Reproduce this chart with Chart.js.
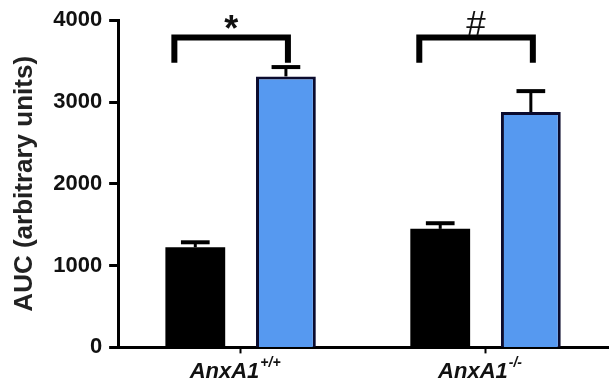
<!DOCTYPE html>
<html>
<head>
<meta charset="utf-8">
<script src="https://cdn.jsdelivr.net/npm/chart.js@4.4.1/dist/chart.umd.min.js"></script>
<style>
  html, body { margin: 0; padding: 0; background: #fff; }
  #wrap { width: 609px; height: 387px; }
</style>
</head>
<body>
<div id="wrap"><canvas id="auc"></canvas></div>
<script>
  // values
  var genotypes = ['AnxA1', 'AnxA1'];
  var genotypeSup = ['+/+', '-/-'];
  var controlAuc = [1224, 1449];
  var controlSem = [61, 69];
  var treatedAuc = [3313, 2877];
  var treatedSem = [114, 256];
  var sigMarks = ['*', '#'];
  var yTicks = [0, 1000, 2000, 3000, 4000];

  var errorBars = {
    id: 'errorBars',
    afterDatasetsDraw: function(chart) {
      var ctx = chart.ctx;
      var y = chart.scales.y;
      ctx.save();
      ctx.strokeStyle = '#000';
      chart.data.datasets.forEach(function(ds, di) {
        var meta = chart.getDatasetMeta(di);
        meta.data.forEach(function(bar, i) {
          var top = y.getPixelForValue(ds.data[i] + ds.sem[i]);
          var half = bar.width * 0.24;
          ctx.lineWidth = 3;
          ctx.beginPath();
          ctx.moveTo(bar.x, bar.y);
          ctx.lineTo(bar.x, top);
          ctx.stroke();
          ctx.lineWidth = 4;
          ctx.beginPath();
          ctx.moveTo(bar.x - half, top);
          ctx.lineTo(bar.x + half, top);
          ctx.stroke();
        });
      });
      ctx.restore();
    }
  };

  var brackets = {
    id: 'brackets',
    afterDraw: function(chart) {
      var ctx = chart.ctx;
      var y = chart.scales.y;
      var x = chart.scales.x;
      var a = chart.getDatasetMeta(0).data;
      var b = chart.getDatasetMeta(1).data;
      var top = y.getPixelForValue(3790);
      var foot = y.getPixelForValue(3480);
      ctx.save();
      ctx.strokeStyle = '#000';
      ctx.lineWidth = 6;
      ctx.lineCap = 'butt';
      ctx.lineJoin = 'miter';
      for (var i = 0; i < a.length; i++) {
        var x0 = a[i].x - a[i].width * 0.35;
        var x1 = b[i].x + 2;
        ctx.beginPath();
        ctx.moveTo(x0, foot);
        ctx.lineTo(x0, top);
        ctx.lineTo(x1, top);
        ctx.lineTo(x1, foot);
        ctx.stroke();

        var mid = (x0 + x1) / 2;
        ctx.fillStyle = '#111';
        ctx.textAlign = 'center';
        ctx.textBaseline = 'alphabetic';
        if (sigMarks[i] === '*') {
          ctx.font = 'bold 36px "Liberation Sans", Arial, sans-serif';
          ctx.fillText(sigMarks[i], mid, top + 4);
        } else {
          ctx.font = '35px "Liberation Sans", Arial, sans-serif';
          ctx.fillText(sigMarks[i], mid, top - 2);
        }
      }

      // genotype labels with superscript
      ctx.textAlign = 'left';
      ctx.textBaseline = 'alphabetic';
      var mainFont = 'italic bold 22px "Liberation Sans", Arial, sans-serif';
      var supFont = 'italic bold 14px "Liberation Sans", Arial, sans-serif';
      for (var j = 0; j < genotypes.length; j++) {
        var cx = x.getPixelForTick(j);
        ctx.font = mainFont;
        var w1 = ctx.measureText(genotypes[j]).width;
        ctx.font = supFont;
        var w2 = ctx.measureText(genotypeSup[j]).width;
        var sx = cx - (w1 + w2) / 2 - 6;
        var base = chart.chartArea.bottom + 31;
        ctx.font = mainFont;
        ctx.fillText(genotypes[j], sx, base);
        ctx.font = supFont;
        ctx.fillText(genotypeSup[j], sx + w1 + 1, base - 11);
      }
      ctx.restore();
    }
  };

  new Chart(document.getElementById('auc'), {
    type: 'bar',
    data: {
      labels: genotypes,
      datasets: [
        {
          label: 'control',
          data: controlAuc,
          sem: controlSem,
          backgroundColor: '#000',
          borderColor: '#000',
          borderWidth: 0
        },
        {
          label: 'treated',
          data: treatedAuc,
          sem: treatedSem,
          backgroundColor: '#5699f0',
          borderColor: '#0b0b2e',
          borderWidth: 3,
          borderSkipped: 'bottom'
        }
      ]
    },
    options: {
      responsive: true,
      maintainAspectRatio: false,
      animation: false,
      layout: { padding: { left: 9, top: 11, right: 1, bottom: 2 } },
      plugins: {
        legend: { display: false },
        tooltip: { enabled: false }
      },
      datasets: {
        bar: { categoryPercentage: 0.74, barPercentage: 0.66 }
      },
      scales: {
        x: {
          border: { display: true, color: '#000', width: 3 },
          grid: {
            offset: false,
            drawOnChartArea: false,
            drawTicks: true,
            tickLength: 6,
            tickWidth: 2,
            tickColor: '#000'
          },
          ticks: {
            color: 'rgba(0,0,0,0)',
            font: { size: 23, weight: 'bold', style: 'italic', family: '"Liberation Sans", Arial, sans-serif' },
            padding: 2
          }
        },
        y: {
          min: 0,
          max: 4000,
          afterBuildTicks: function(axis) {
            axis.ticks = yTicks.map(function(v) { return { value: v }; });
          },
          border: { display: true, color: '#000', width: 3 },
          grid: {
            drawOnChartArea: false,
            drawTicks: true,
            tickLength: 9,
            tickWidth: 3,
            tickColor: '#000'
          },
          ticks: {
            color: '#111',
            font: { size: 22, weight: 'bold', family: '"Liberation Sans", Arial, sans-serif' },
            padding: 7,
            callback: function(v) { return String(v); }
          },
          title: {
            display: true,
            text: 'AUC (arbitrary units)',
            color: '#222',
            font: { size: 26, weight: 'bold', family: '"Liberation Sans", Arial, sans-serif' },
            padding: { top: 0, bottom: 6 }
          }
        }
      }
    },
    plugins: [errorBars, brackets]
  });
</script>
</body>
</html>
